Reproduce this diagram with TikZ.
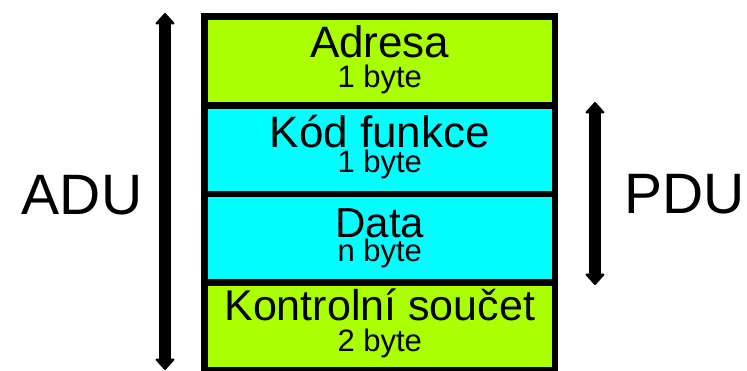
\documentclass[tikz,border=0pt]{standalone}
\usepackage{fontspec}
\setmainfont{Liberation Sans}
\usetikzlibrary{arrows.meta}

\definecolor{framegreen}{RGB}{170,255,0}
\definecolor{framecyan}{RGB}{0,255,255}

\tikzset{
  field/.style={draw=black, line width=6.5pt, minimum width=350.5pt,
    inner sep=0pt, outer sep=0pt, anchor=north west},
  title/.style={anchor=base, inner sep=0pt, font=\fontsize{44}{44}\selectfont},
  size/.style={anchor=base, inner sep=0pt, font=\fontsize{31}{31}\selectfont},
  span/.style={line width=12.5pt,
    {Triangle[round, length=12pt, width=21pt, line width'=2pt]}-{Triangle[round, length=12pt, width=21pt, line width'=2pt]}},
  tag/.style={anchor=base, inner sep=0pt, font=\fontsize{57}{57}\selectfont}
}

\begin{document}
\begin{tikzpicture}[x=1pt, y=-1pt]
  \useasboundingbox (0,0) rectangle (747,371);

  % frame fields, top to bottom
  \node[field, fill=framegreen, minimum height=89pt]   (adr) at (204.5,16.5)  {};
  \node[field, fill=framecyan,  minimum height=88.5pt] (fn)  at (204.5,105.5) {};
  \node[field, fill=framecyan,  minimum height=88.5pt] (dat) at (204.5,194)   {};
  \node[field, fill=framegreen, minimum height=88pt]   (crc) at (204.5,282.5) {};

  % field labels
  \node[title] (adrT) at (379.75,58)  {Adresa};
  \node[size]  (adrS) at (379.75,88)  {1 byte};
  \node[title] (fnT)  at (379.75,148) {Kód funkce};
  \node[size]  (fnS)  at (379.75,173) {1 byte};
  \node[title, font=\fontsize{42}{42}\selectfont] (datT) at (379.75,238) {Data};
  \node[size]  (datS) at (379.75,261.5) {n byte};
  \node[title, font=\fontsize{43}{43}\selectfont] (crcT) at (379.75,320) {Kontrolní součet};
  \node[size]  (crcS) at (379.75,351.5) {2 byte};

  % extent arrows
  \coordinate (aduTop) at (165,13);
  \coordinate (aduBot) at (165,370);
  \coordinate (pduTop) at (595,102);
  \coordinate (pduBot) at (595,285);
  \draw[span] (aduTop) -- (aduBot);
  \draw[span] (pduTop) -- (pduBot);

  \node[tag] (adu) at (82,215) {ADU};
  \node[tag] (pdu) at (684.5,214) {PDU};
\end{tikzpicture}
\end{document}
